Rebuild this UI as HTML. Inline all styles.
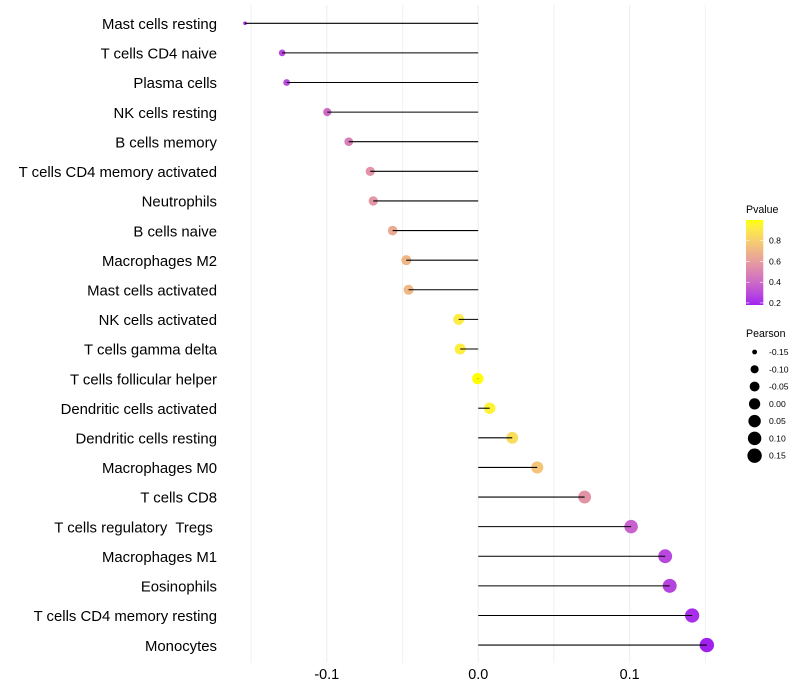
<!DOCTYPE html>
<html>
<head>
<meta charset="utf-8">
<title>Pearson lollipop chart</title>
<style>
html,body{margin:0;padding:0;background:#fff;}
svg{display:block;font-family:"Liberation Sans",sans-serif;}
</style>
</head>
<body>
<svg id="chart" xmlns="http://www.w3.org/2000/svg" width="800" height="700" viewBox="0 0 800 700">
<defs><linearGradient id="pv-grad" x1="0" y1="1" x2="0" y2="0"></linearGradient></defs>
<g id="grid"></g>
<g id="marks"></g>
<g id="ylabels"></g>
<g id="xlabels"></g>
<g id="legend-p">
<text x="746" y="213" font-size="10.6" fill="#000">Pvalue</text>
<rect x="746" y="220" width="17.3" height="85" fill="url(#pv-grad)"></rect>
</g>
<g id="legend-s">
<text x="746" y="337" font-size="10.6" fill="#000">Pearson</text>
</g>
</svg>
<script>
const categories = ["Mast cells resting","T cells CD4 naive","Plasma cells","NK cells resting","B cells memory","T cells CD4 memory activated","Neutrophils","B cells naive","Macrophages M2","Mast cells activated","NK cells activated","T cells gamma delta","T cells follicular helper","Dendritic cells activated","Dendritic cells resting","Macrophages M0","T cells CD8","T cells regulatory  Tregs ","Macrophages M1","Eosinophils","T cells CD4 memory resting","Monocytes"];
const pearson = [-0.154,-0.1295,-0.1265,-0.0997,-0.0855,-0.0713,-0.0693,-0.0565,-0.0475,-0.046,-0.0129,-0.0119,-0.0003,0.0076,0.0225,0.039,0.0703,0.101,0.1235,0.1265,0.1413,0.151];
const pvalue = [0.18,0.28,0.29,0.4,0.48,0.56,0.57,0.65,0.7,0.71,0.92,0.93,1.0,0.95,0.86,0.76,0.56,0.37,0.28,0.27,0.21,0.18];
const xMajorTicks = [-0.1,0,0.1];
const xMajorLabels = ["-0.1","0.0","0.1"];
const xMinorTicks = [-0.15,-0.05,0.05,0.15];
const pLegendTicks = [0.2,0.4,0.6,0.8];
const sizeLegendValues = [-0.15,-0.10,-0.05,0,0.05,0.10,0.15];
const sizeLegendLabels = ["-0.15","-0.10","-0.05","0.00","0.05","0.10","0.15"];

const NS = "http://www.w3.org/2000/svg";
function xScale(v){ return 478.2 + v * 1514; }
function yScale(i){ return 23.28 + i * 29.61; }
const pMin = 0.18, pMax = 1.0;
const sMin = Math.min.apply(null, pearson), sMax = Math.max.apply(null, pearson);
function rScale(v){
  const t = Math.max(0, (v - sMin) / (sMax - sMin));
  return 1.8 + 5.4 * Math.sqrt(t);
}
function pToBarY(p){ return 305 - (p - pMin) / (pMax - pMin) * 85; }
function rgb2lab(c){
  const l = c.map(function(v){ v/=255; return v>0.04045?Math.pow((v+0.055)/1.055,2.4):v/12.92; });
  const X=(0.4124*l[0]+0.3576*l[1]+0.1805*l[2])/0.95047, Y=0.2126*l[0]+0.7152*l[1]+0.0722*l[2], Z=(0.0193*l[0]+0.1192*l[1]+0.9505*l[2])/1.08883;
  const f=function(t){ return t>0.008856?Math.cbrt(t):7.787*t+16/116; };
  return [116*f(Y)-16,500*(f(X)-f(Y)),200*(f(Y)-f(Z))];
}
function lab2rgb(L){
  const fy=(L[0]+16)/116, fx=fy+L[1]/500, fz=fy-L[2]/200;
  const g=function(t){ return t*t*t>0.008856?t*t*t:(t-16/116)/7.787; };
  const X=g(fx)*0.95047, Y=g(fy), Z=g(fz)*1.08883;
  const r=[3.2406*X-1.5372*Y-0.4986*Z,-0.9689*X+1.8758*Y+0.0415*Z,0.0557*X-0.204*Y+1.057*Z];
  return r.map(function(v){ v=v>0.0031308?1.055*Math.pow(v,1/2.4)-0.055:12.92*v; return Math.round(Math.min(1,Math.max(0,v))*255); });
}
const labLow = rgb2lab([160,32,240]), labHigh = rgb2lab([255,255,0]);
function colorScale(p){
  const t = Math.min(1, Math.max(0, (p - pMin) / (pMax - pMin)));
  const c = lab2rgb([0,1,2].map(function(k){ return labLow[k] + (labHigh[k]-labLow[k])*t; }));
  return "rgb(" + c.join(",") + ")";
}
function make(tag, parent, attrs, text){
  const el = document.createElementNS(NS, tag);
  for (const k in attrs) el.setAttribute(k, attrs[k]);
  if (text !== undefined) el.textContent = text;
  parent.appendChild(el);
  return el;
}
const grid = document.getElementById("grid");
const marks = document.getElementById("marks");
const ylabels = document.getElementById("ylabels");
const xlabels = document.getElementById("xlabels");
const legendP = document.getElementById("legend-p");
const legendS = document.getElementById("legend-s");
const grad = document.getElementById("pv-grad");

xMinorTicks.forEach(function(v){
  const el = make("line", grid, {x1:xScale(v),x2:xScale(v),y1:5,y2:663,stroke:"#f3f3f3","stroke-width":1.2});
  
  
});
xMajorTicks.forEach(function(v,i){
  const el = make("line", grid, {x1:xScale(v),x2:xScale(v),y1:5,y2:663,stroke:"#f0f0f0","stroke-width":1.2});
  
  
  const t = make("text", xlabels, {x:xScale(v),y:679,"text-anchor":"middle","font-size":14.4,fill:"#000"}, xMajorLabels[i]);
  
  
});
categories.forEach(function(name,i){
  const y = yScale(i);
  const t = make("text", ylabels, {x:217,y:y+5.7,"text-anchor":"end","font-size":14.9,fill:"#000",style:"white-space:pre"}, name);
  
  
  const c = make("circle", marks, {cx:xScale(pearson[i]),cy:y,r:rScale(pearson[i]),fill:colorScale(pvalue[i])});
  
  
  const l = make("line", marks, {x1:xScale(0),x2:xScale(pearson[i]),y1:y,y2:y,stroke:"#000","stroke-width":1.07});
  
  
});
for (let s = 0; s <= 20; s++){
  const p = pMin + (pMax-pMin)*s/20;
  make("stop", grad, {offset:(s*5)+"%","stop-color":colorScale(p)});
}
pLegendTicks.forEach(function(p){
  const y = pToBarY(p);
  const a = make("line", legendP, {x1:746,x2:749.5,y1:y,y2:y,stroke:"#fff","stroke-width":0.6});
  
  
  const b = make("line", legendP, {x1:759.8,x2:763.3,y1:y,y2:y,stroke:"#fff","stroke-width":0.6});
  
  
  const t = make("text", legendP, {x:769,y:y+3,"font-size":8.6,fill:"#000"}, p.toFixed(1));
  
  
});
sizeLegendValues.forEach(function(v,i){
  const y = 352 + i * 17.28;
  const c = make("circle", legendS, {cx:754.6,cy:y,r:rScale(v),fill:"#000"});
  
  
  const t = make("text", legendS, {x:769,y:y+3,"font-size":8.6,fill:"#000"}, sizeLegendLabels[i]);
  
  
});
</script>
</body>
</html>
